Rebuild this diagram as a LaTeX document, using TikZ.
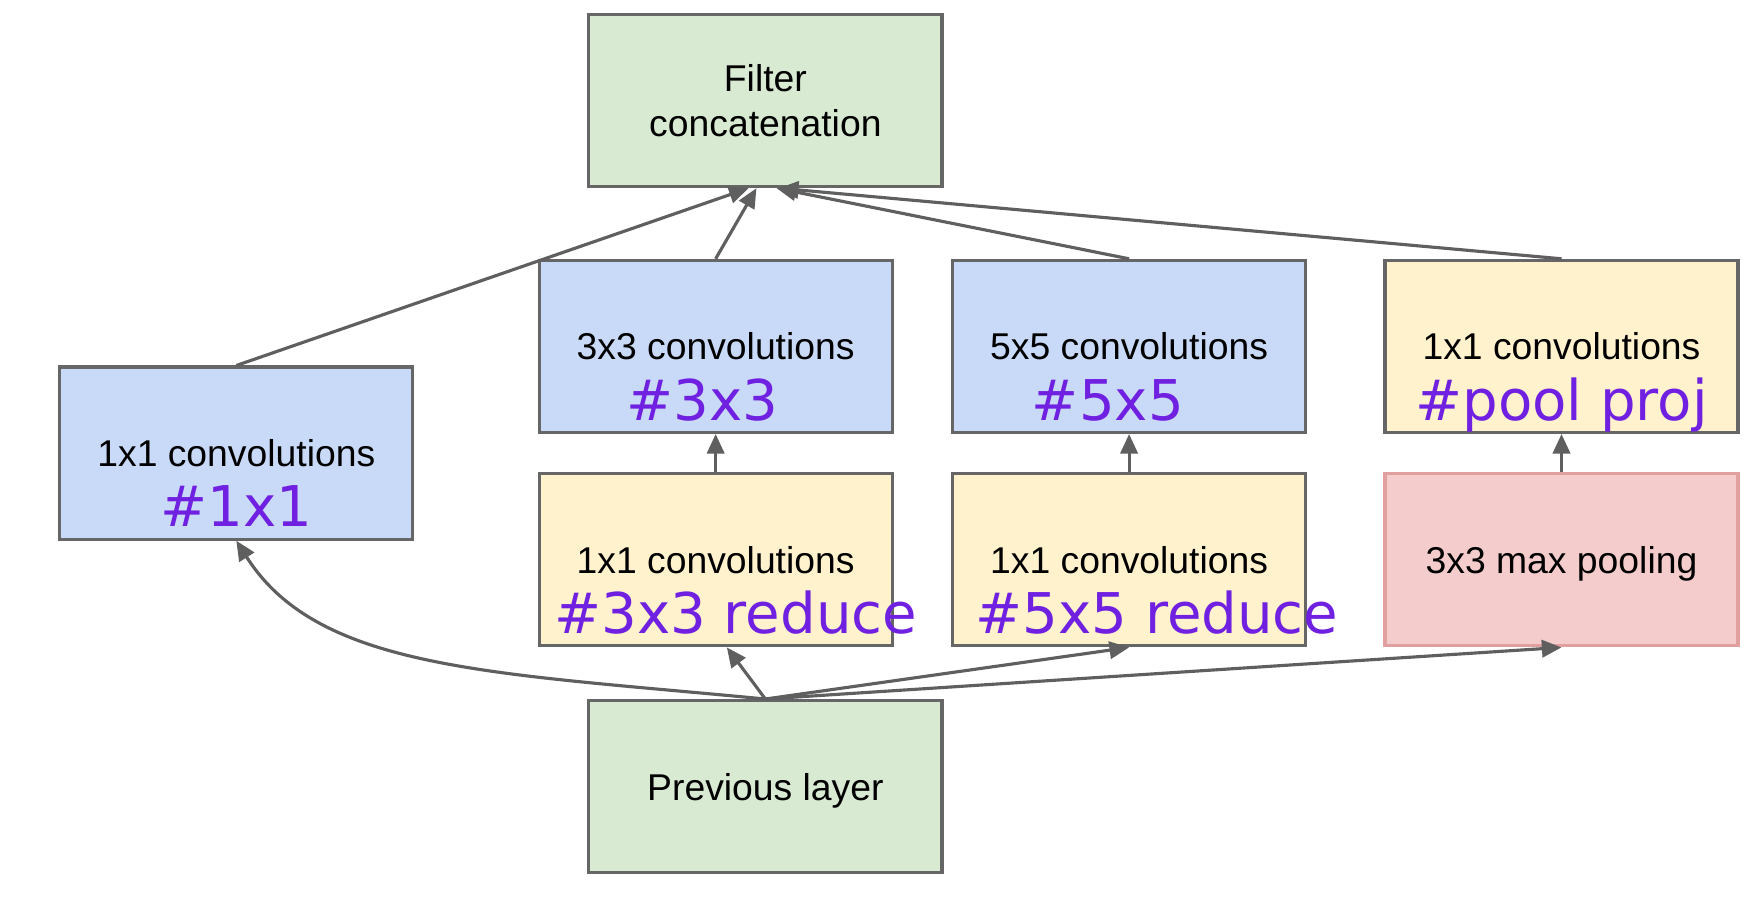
\documentclass[tikz,border=0pt]{standalone}
\usepackage{fontspec}
\setmainfont{Liberation Sans}
\newfontfamily\tagfont{DejaVu Sans}
\usetikzlibrary{arrows.meta}
\definecolor{boxgreen}{HTML}{D9EAD3}
\definecolor{boxblue}{HTML}{C9DAF8}
\definecolor{boxyellow}{HTML}{FFF2CC}
\definecolor{boxpink}{HTML}{F4CCCC}
\definecolor{boxline}{HTML}{666666}
\definecolor{poolline}{HTML}{E0A0A0}
\definecolor{flowgray}{HTML}{5F5F5F}
\definecolor{tagpurple}{RGB}{112,32,224}
\tikzset{
    layer-box/.style = {draw=boxline, line width=0.8pt, rectangle, minimum width=3.16cm, minimum height=1.54cm, inner sep=0pt, text depth=0pt, align=center, font=\fontsize{9.5}{11.5}\selectfont},
    green-box/.style = {layer-box, fill=boxgreen},
    blue-box/.style = {layer-box, fill=boxblue},
    yellow-box/.style = {layer-box, fill=boxyellow},
    pool-box/.style = {layer-box, fill=boxpink, draw=poolline},
    count-tag/.style = {text=tagpurple, font=\tagfont\fontsize{14.3}{17}\selectfont, anchor=base, inner sep=0pt},
    flow/.style = {draw=flowgray, line width=0.8pt, -{Triangle[length=5pt,width=4.4pt]}},
}
\begin{document}
\begin{tikzpicture}
\useasboundingbox (0,0) rectangle (15.68,8.07);
% boxes
\node[green-box] (concat) at (6.85,7.17) {Filter\\concatenation};
\node[blue-box] (conv1) at (2.115,4.015) {1x1 convolutions};
\node[blue-box] (conv3) at (6.405,4.97) {3x3 convolutions};
\node[blue-box] (conv5) at (10.105,4.97) {5x5 convolutions};
\node[yellow-box] (proj) at (13.975,4.97) {1x1 convolutions};
\node[yellow-box] (red3) at (6.405,3.06) {1x1 convolutions};
\node[yellow-box] (red5) at (10.105,3.06) {1x1 convolutions};
\node[pool-box] (pool) at (13.975,3.06) {3x3 max pooling};
\node[green-box] (prev) at (6.85,1.03) {Previous layer};
% connectors
\draw[flow] (prev.north) .. controls (4.40,2.05) and (2.85,2.07) .. (conv1.south);
\draw[flow] (prev.north) -- ([xshift=0.1cm]red3.south);
\draw[flow] (prev.north) -- (red5.south);
\draw[flow] (prev.north) -- (pool.south);
\draw[flow] (red3) -- (conv3);
\draw[flow] (red5) -- (conv5);
\draw[flow] (pool) -- (proj);
\draw[flow] (conv1.north) -- ([xshift=-0.15cm]concat.south);
\draw[flow] (conv3.north) -- ([xshift=-0.08cm]concat.south);
\draw[flow] (conv5.north) -- ([xshift=0.1cm]concat.south);
\draw[flow] (proj.north) -- ([xshift=0.12cm]concat.south);
% filter counts
\node[count-tag] (tag1) at ([yshift=-0.66cm]conv1.center) {\#1x1};
\node[count-tag] (tag3) at ([xshift=-0.12cm,yshift=-0.66cm]conv3.center) {\#3x3};
\node[count-tag] (tag5) at ([xshift=-0.19cm,yshift=-0.66cm]conv5.center) {\#5x5};
\node[count-tag] (tagproj) at ([yshift=-0.66cm]proj.center) {\#pool proj};
\node[count-tag] (tagred3) at ([xshift=0.18cm,yshift=-0.66cm]red3.center) {\#3x3 reduce};
\node[count-tag] (tagred5) at ([xshift=0.25cm,yshift=-0.66cm]red5.center) {\#5x5 reduce};
\end{tikzpicture}
\end{document}
